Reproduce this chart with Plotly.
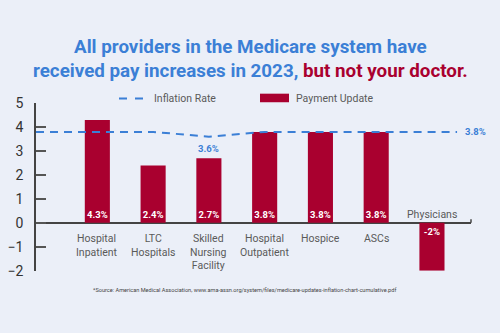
import plotly.graph_objects as go

# ---- data ----
categories = ["Hospital<br>Inpatient", "LTC<br>Hospitals", "Skilled<br>Nursing<br>Facility",
              "Hospital<br>Outpatient", "Hospice", "ASCs", "Physicians"]
payment_update = [4.3, 2.4, 2.7, 3.8, 3.8, 3.8, -2]
inflation_rate = [3.8, 3.8, 3.6, 3.8, 3.8, 3.8, 3.8]
y_ticks = [-2, -1, 0, 1, 2, 3, 4, 5]

# ---- style ----
BG = "#ebeff8"
RED = "#a9002f"
BLUE = "#3b7fd6"
BOLDF = "Roboto, Liberation Sans, Arial, sans-serif"
BASE = "Roboto, Liberation Sans, Arial, sans-serif"

idx = list(range(len(categories)))
x_lo, x_hi = -1.1, 6.7
line_start, line_end = x_lo, 6.45
line_x = [line_start] + idx + [line_end]
line_y = [inflation_rate[0]] + inflation_rate + [inflation_rate[-1]]

fig = go.Figure()
fig.add_trace(go.Bar(
    x=idx, y=payment_update, width=0.45,
    marker=dict(color=RED, line=dict(width=0)),
    text=[f"{v:g}%" for v in payment_update],
    textposition="inside", insidetextanchor="start", textangle=0,
    constraintext="none",
    textfont=dict(family=BOLDF, size=9.5, color="white", weight="bold"),
    name="Payment Update", showlegend=False, hoverinfo="skip",
))
fig.add_trace(go.Scatter(
    x=line_x, y=line_y, mode="lines",
    line=dict(color=BLUE, width=2, dash="8px,6px"),
    name="Inflation Rate", showlegend=False, hoverinfo="skip",
))

annotations = []
for i, (c, v) in enumerate(zip(categories, payment_update)):
    if v >= 0:
        annotations.append(dict(x=i, y=0, xref="x", yref="y", text=c, showarrow=False,
                                yanchor="top", yshift=-7,
                                font=dict(family=BASE, size=10.5, color="#5a5a5a")))
    else:
        annotations.append(dict(x=i, y=0, xref="x", yref="y", text=c, showarrow=False,
                                yanchor="bottom", yshift=0,
                                font=dict(family=BASE, size=10.5, color="#5a5a5a")))

# inflation labels
min_i = inflation_rate.index(min(inflation_rate))
annotations.append(dict(x=min_i, y=inflation_rate[min_i], xref="x", yref="y",
                        text=f"{inflation_rate[min_i]:g}%", showarrow=False,
                        yanchor="top", yshift=-4,
                        font=dict(family=BOLDF, size=9.5, color=BLUE, weight="bold")))
annotations.append(dict(x=line_end, y=inflation_rate[-1], xref="x", yref="y",
                        text=f"{inflation_rate[-1]:g}%", showarrow=False,
                        xanchor="left", xshift=6,
                        font=dict(family=BOLDF, size=9.5, color=BLUE, weight="bold")))

# legend texts
annotations.append(dict(x=152/500, y=1-95/333, xref="paper", yref="paper", text="Inflation Rate",
                        showarrow=False, xanchor="left", yanchor="middle",
                        font=dict(family=BASE, size=10.5, color="#5a5a5a")))
annotations.append(dict(x=294/500, y=1-95/333, xref="paper", yref="paper", text="Payment Update",
                        showarrow=False, xanchor="left", yanchor="middle",
                        font=dict(family=BASE, size=10.5, color="#5a5a5a")))

# title
annotations.append(dict(x=0.5, y=1-53.5/333, xref="paper", yref="paper", showarrow=False,
                        xanchor="center", yanchor="middle",
                        text="All providers in the Medicare system have<br>received pay increases in 2023, "
                             f"<span style='color:{RED}'>but not your doctor.</span>",
                        font=dict(family=BOLDF, size=18.8, color=BLUE, weight="bold")))
# source
annotations.append(dict(x=244/500, y=1-296/333, xref="paper", yref="paper", showarrow=False,
                        xanchor="center", yanchor="middle",
                        text="*Source: American Medical Association, www.ama-assn.org/system/files/medicare-updates-inflation-chart-cumulative.pdf",
                        font=dict(family=BASE, size=5.6, color="#444")))

shapes = [
    dict(type="line", xref="paper", yref="paper", x0=119/500, x1=145/500,
         y0=1-95/333, y1=1-95/333, line=dict(color=BLUE, width=2, dash="8px,8px")),
    dict(type="rect", xref="paper", yref="paper", x0=260/500, x1=289/500,
         y0=1-99/333, y1=1-90/333, fillcolor=RED, line=dict(width=0)),
    dict(type="line", xref="paper", yref="y", x0=471/500, x1=471/500, y0=0, y1=0.15,
         line=dict(color="#444", width=1.5)),
]

fig.update_layout(
    width=500, height=333,
    margin=dict(l=0, r=0, t=0, b=0),
    paper_bgcolor=BG, plot_bgcolor=BG,
    font=dict(family=BASE),
    showlegend=False,
    annotations=annotations, shapes=shapes,
    xaxis=dict(domain=[36/500, 471/500], range=[x_lo, x_hi], visible=False, fixedrange=True),
    yaxis=dict(domain=[1-276/333, 1-100/333], range=[-2, 5], tickvals=y_ticks,
               showgrid=False, showline=True, linecolor="#444", linewidth=1.5,
               ticks="inside", ticklen=10, tickwidth=1.5, tickcolor="#555",
               tickfont=dict(family=BASE, size=14, color="#333"),
               zeroline=True, zerolinecolor="#444", zerolinewidth=1.5,
               ticklabelstandoff=8),
)

fig.write_html("out.html")
